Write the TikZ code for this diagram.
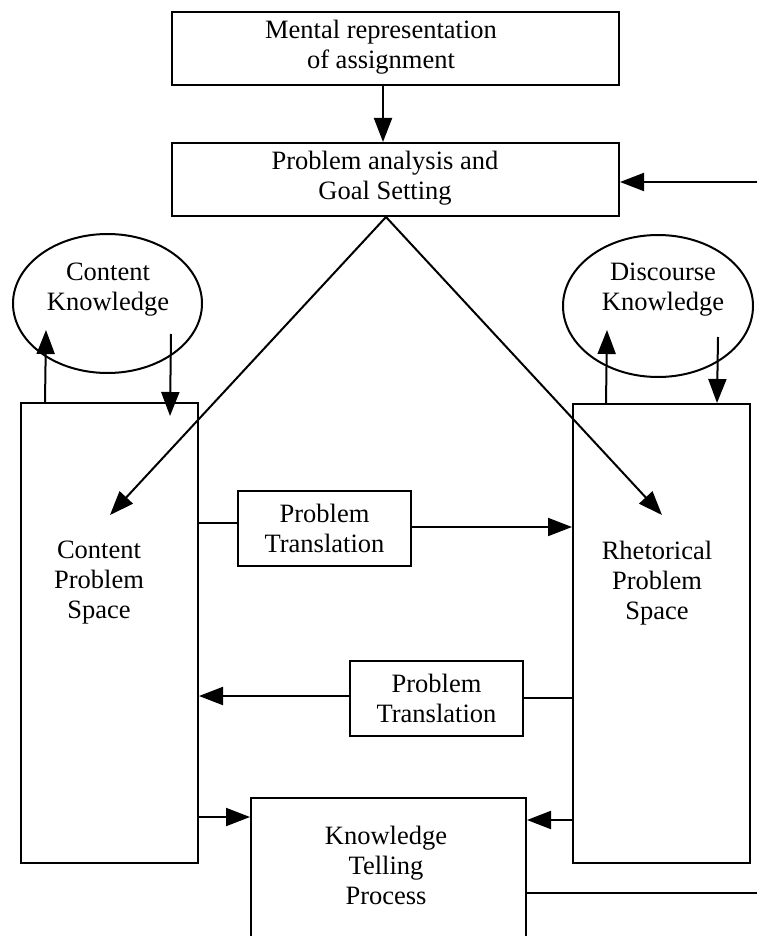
\documentclass[tikz,border=0pt]{standalone}
\usepackage{fontspec}
\setmainfont{Liberation Serif}
\usetikzlibrary{arrows.meta,shapes.geometric}
\begin{document}
\begin{tikzpicture}[x=1pt,y=-1pt,
  lw/.style={line width=2pt},
  box/.style={draw,lw,rectangle,inner sep=0pt},
  oval/.style={draw,lw,ellipse,inner sep=0pt},
  lbl/.style={font=\fontsize{26.5}{30}\selectfont,align=center,inner sep=0pt},
  arr/.style={lw,-{Triangle[length=24pt,width=18pt]}},
  con/.style={lw}]
\clip (0,0) rectangle (757,936);
\useasboundingbox (0,0) rectangle (757,936);

% top boxes
\node[box,minimum width=447pt,minimum height=73pt] (mr) at (395.5,48.5) {};
\node[lbl] (mrt) at (381,47) {Mental representation\\of assignment};
\node[box,minimum width=447pt,minimum height=73pt] (pa) at (395.5,179.5) {};
\node[lbl] (pat) at (385,178) {Problem analysis and\\Goal Setting};
\draw[arr] ([xshift=-12.5pt]mr.south) -- ([xshift=-12.5pt]pa.north);
\coordinate (fb) at (757,182);
\draw[arr] (fb) -- (pa.east |- fb);

% knowledge ellipses
\node[oval,minimum width=189pt,minimum height=139pt] (ck) at (107.5,303.5) {};
\node[lbl] (ckt) at (108,290) {Content\\Knowledge};
\node[oval,minimum width=190pt,minimum height=142pt] (dk) at (658,306) {};
\node[lbl] (dkt) at (663,290) {Discourse\\Knowledge};

% problem spaces
\node[box,minimum width=177pt,minimum height=460pt] (cps) at (109.5,633) {};
\node[lbl] (cpst) at (99,583) {Content\\Problem\\Space};
\node[box,minimum width=177pt,minimum height=459pt] (rps) at (661.5,633.5) {};
\node[lbl] (rpst) at (657,583) {Rhetorical\\Problem\\Space};

% knowledge <-> space arrows
\draw[arr] ([xshift=25pt]cps.north west) -- ([xshift=-61.5pt,yshift=-26.5pt]ck.center);
\draw[arr] ([xshift=63.5pt,yshift=-30.5pt]ck.center) -- ([xshift=150pt,yshift=-14pt]cps.north west);
\draw[arr] ([xshift=34pt]rps.north west) -- ([xshift=-51pt,yshift=-24pt]dk.center);
\draw[arr] ([xshift=60pt,yshift=-31pt]dk.center) -- ([xshift=145pt]rps.north west);

% diagonals
\coordinate (t1) at (110,515);
\coordinate (t2) at (662,515);
\draw[arr] ([xshift=-9.5pt]pa.south) -- (t1);
\draw[arr] ([xshift=-9.5pt]pa.south) -- (t2);

% problem translation boxes
\node[box,lbl,minimum width=173pt,minimum height=75pt] (pt1) at (324.5,528.5) {Problem\\Translation};
\node[box,lbl,minimum width=173pt,minimum height=75pt] (pt2) at (436.5,698.5) {Problem\\Translation};

% knowledge telling
\node[box,minimum width=275pt,minimum height=178pt] (kt) at (388.5,887) {};
\node[lbl] (ktt) at (386,865) {Knowledge\\Telling\\Process};

% helper levels
\coordinate (h1) at (0,523);
\coordinate (h2) at (0,527);
\coordinate (h3) at (0,698);
\coordinate (h4) at (0,696);
\coordinate (h5) at (0,817);
\coordinate (h6) at (0,820);
\coordinate (out) at (757,893);

\draw[con] (cps.east |- h1) -- (pt1.west |- h1);
\draw[arr] (pt1.east |- h2) -- (rps.west |- h2);
\draw[con] (rps.west |- h3) -- (pt2.east |- h3);
\draw[arr] (pt2.west |- h4) -- (cps.east |- h4);
\draw[arr] (cps.east |- h5) -- (kt.west |- h5);
\draw[arr] (rps.west |- h6) -- (kt.east |- h6);
\draw[con] (kt.east |- out) -- (out);
\end{tikzpicture}
\end{document}
